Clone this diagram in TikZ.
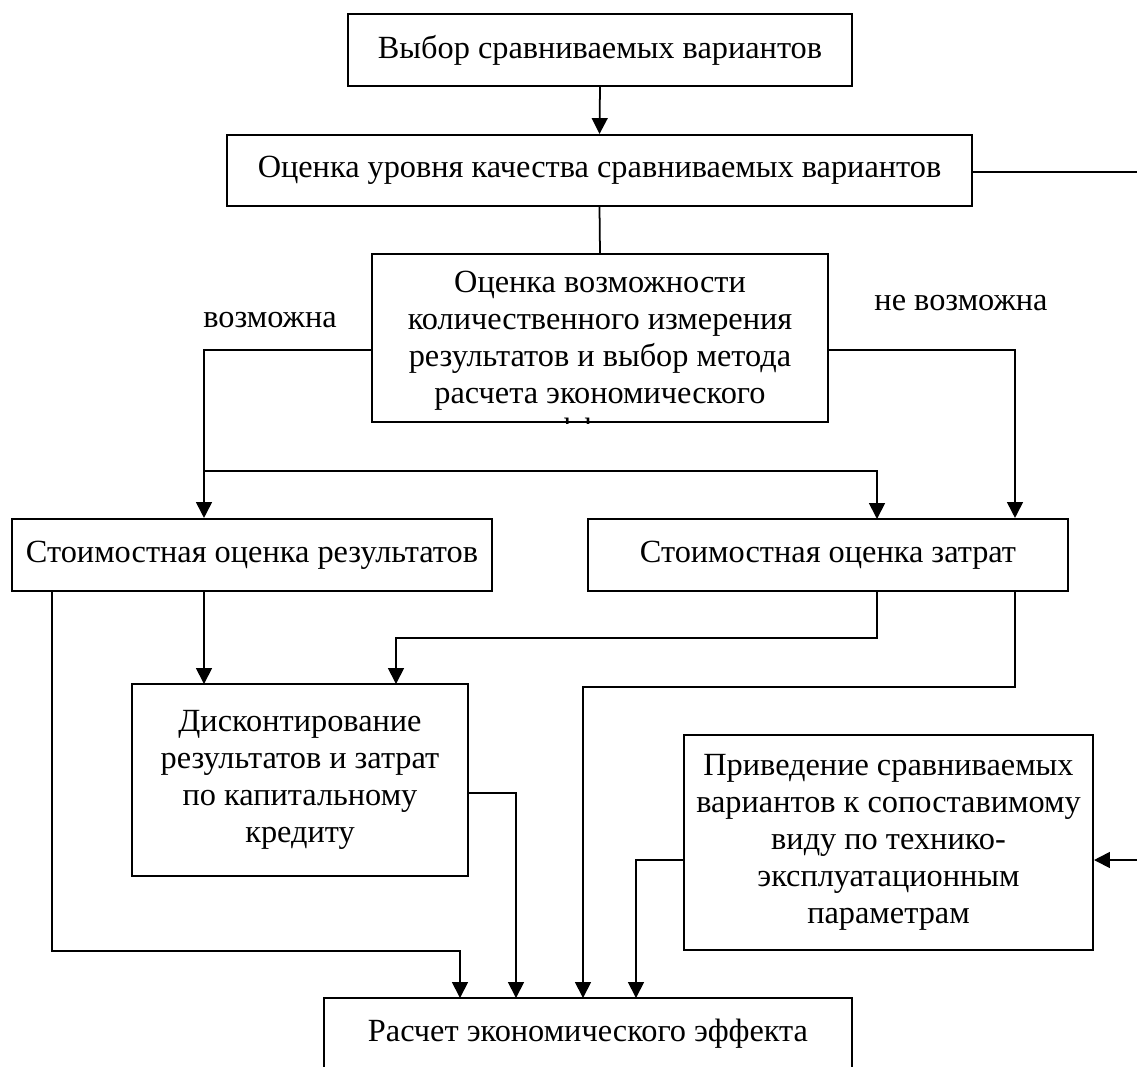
\documentclass[tikz,border=0pt]{standalone}
\usepackage{fontspec}
\setmainfont{Liberation Serif}
\usetikzlibrary{arrows.meta,positioning}

\begin{document}
\begin{tikzpicture}
  [x=0.02cm, y=-0.02cm,
   blockN/.style={draw,line width=1.2pt,align=center,inner sep=0pt,
     font=\fontsize{18.4}{21}\selectfont},
   labelN/.style={font=\fontsize{18.4}{21}\selectfont},
   link/.style={line width=1pt},
   arr/.style={link,-{Triangle[width=9pt,length=9pt]}}]

  \clip (0,0) rectangle (1137,1066);

  \node[blockN,minimum width=10.08cm,minimum height=1.44cm] (choose) at (600,50)
    {Выбор сравниваемых вариантов};
  \node[blockN,minimum width=14.9cm,minimum height=1.42cm] (quality) at (599.5,170.5)
    {Оценка уровня качества сравниваемых вариантов};

  \node[blockN,minimum width=9.12cm,minimum height=3.36cm] (possib) at (600,338) {};
  \begin{scope}
    \clip (possib.south west) rectangle (possib.north east);
    \node[labelN,align=center] (possibT) at (600,359)
      {Оценка возможности\\количественного измерения\\результатов и выбор метода\\расчета экономического\\эффекта};
  \end{scope}

  \node[labelN] (yes) at (270,320) {возможна};
  \node[labelN] (no) at (961,303) {не возможна};

  \node[blockN,minimum width=9.6cm,minimum height=1.44cm] (resul) at (252,555)
    {Стоимостная оценка результатов};
  \node[blockN,minimum width=9.6cm,minimum height=1.44cm] (cost) at (828,555)
    {Стоимостная оценка затрат};
  \node[blockN,minimum width=6.72cm,minimum height=3.84cm] (disc) at (300,780)
    {Дисконтирование\\результатов и затрат\\по капитальному\\кредиту};
  \node[blockN,minimum width=8.18cm,minimum height=4.3cm] (reduce) at (888.5,842.5)
    {Приведение сравниваемых\\вариантов к сопоставимому\\виду по технико-\\эксплуатационным\\параметрам};
  \node[blockN,minimum width=10.56cm,minimum height=1.44cm] (calc) at (588,1034)
    {Расчет экономического эффекта};

  % junction points
  \coordinate (yesL) at (204,350);
  \coordinate (split) at (204,471);
  \coordinate (noR) at (1015,350);
  \coordinate (outR) at (1160,172);

  \draw[arr] (choose.south) -- (quality.north);
  \draw[link] (quality.south) -- (possib.north);
  \draw[arr] (quality.east |- outR) -- (outR) |- (reduce.east |- 0,860);

  \draw[arr] (possib.west |- yesL) -- (yesL) -- (yesL |- resul.north);
  \draw[arr] (split) -| (877,519);
  \draw[arr] (possib.east |- noR) -- (noR) -- (noR |- cost.north);

  \draw[arr] (204,591) -- (204,684);
  \draw[arr] (877,591) |- (396,638) -- (396,684);
  \draw[arr] (1015,591) |- (583,687) -- (583,998);
  \draw[arr] (52,591) |- (460,951) -- (460,998);
  \draw[arr] (disc.east |- 0,793) -| (516,998);
  \draw[arr] (reduce.west |- 0,860) -| (636,998);
\end{tikzpicture}
\end{document}
